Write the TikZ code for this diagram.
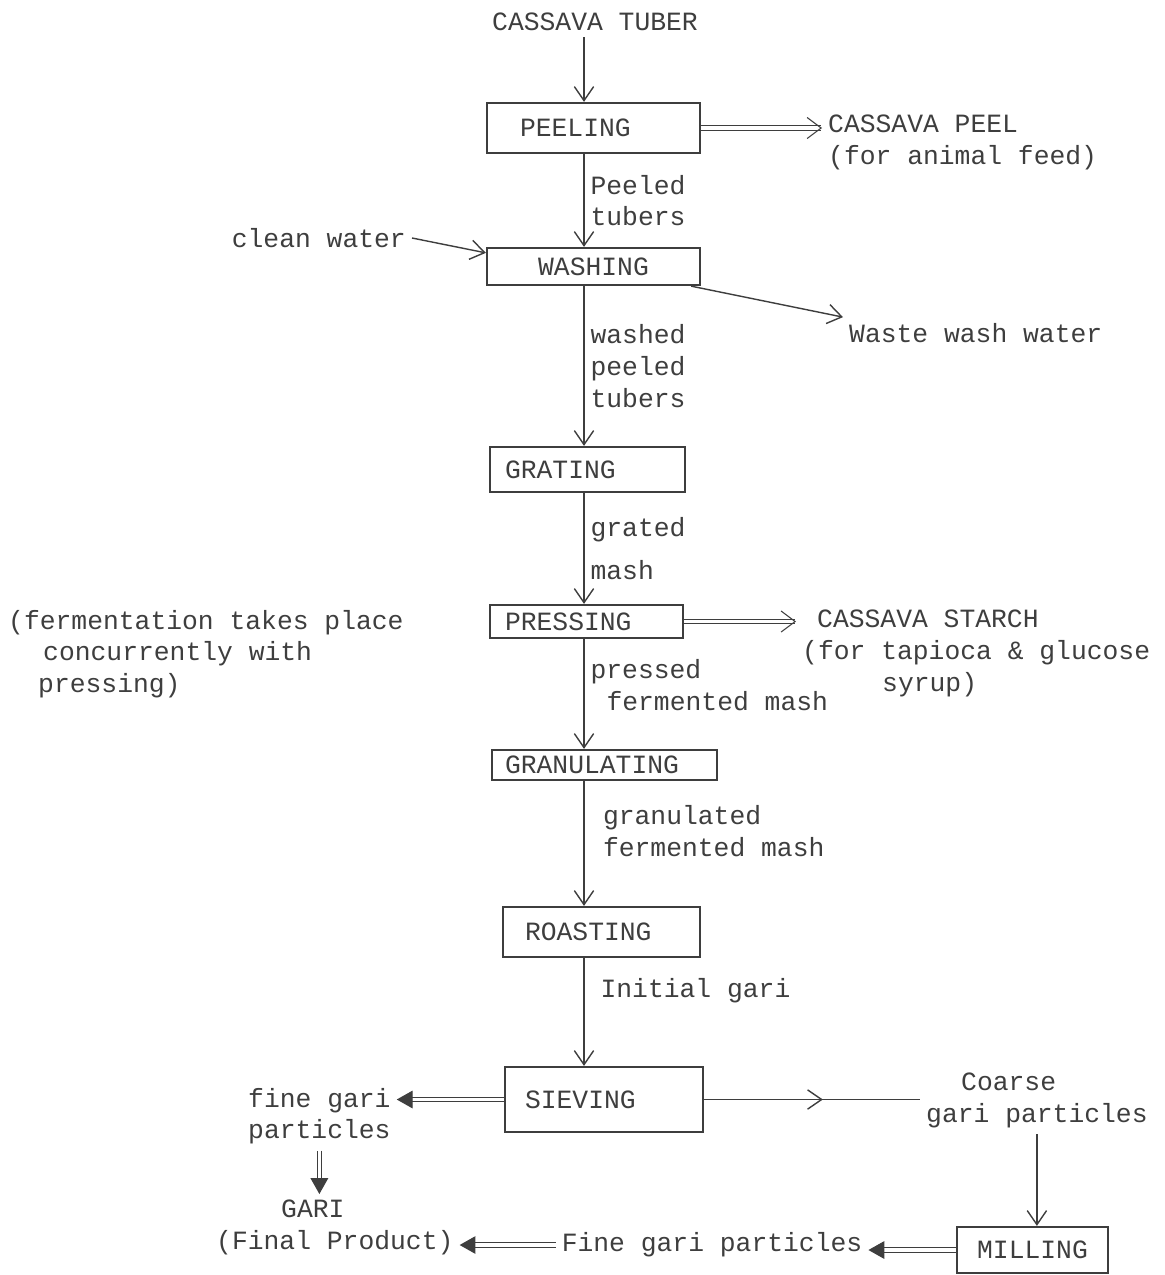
\documentclass[tikz,border=0pt]{standalone}
\usepackage{fontspec}
\setmonofont{Liberation Mono}
\usepackage{tikz}
\usetikzlibrary{arrows.meta,decorations.markings,calc}
\usepackage{xcolor}
\definecolor{ink}{RGB}{62,62,62}

\begin{document}
\begin{tikzpicture}[
    x=0.02cm, y=-0.02cm,
    every node/.style={font=\ttfamily\fontsize{15}{18}\selectfont, text=ink},
    process/.style={rectangle, draw=ink, line width=1.3pt, inner ysep=0pt, align=left},
    arrow/.style={draw=ink, line width=0.8pt, -{Straight Barb[length=8pt, width=11pt]}},
    dblarrow/.style={draw=ink, line width=0.6pt, double, double distance=2pt, -{Straight Barb[length=8pt, width=12pt]}},
    fillarrow/.style={draw=ink, line width=0.6pt, double, double distance=2pt, -{Triangle[length=9pt, width=10pt]}},
    midarrow/.style={draw=ink, line width=0.8pt, postaction={decorate},
        decoration={markings, mark=at position 0.55 with {\arrow{Straight Barb[length=8pt, width=11pt]}}}}
]
    \useasboundingbox (0,0) rectangle (1165,1275);
    \coordinate (spine) at (584,0);

    % Main line
    \node (tuber) at (595,22) {CASSAVA TUBER};
    \node[process, inner xsep=0.66cm, text width=2.94cm, minimum height=1cm] (peel) at (593.5,128) {PEELING};
    \node[process, inner xsep=0.3cm, text width=3.66cm, minimum height=0.74cm, align=center] (wash) at (593.5,266.5) {WASHING};
    \node[process, inner xsep=0.3cm, text width=3.3cm, minimum height=0.9cm] (grate) at (587.5,469.5) {GRATING};
    \node[process, inner xsep=0.3cm, text width=3.26cm, minimum height=0.66cm] (press) at (586.5,621.5) {PRESSING};
    \node[process, inner xsep=0.26cm, text width=3.98cm, minimum height=0.6cm] (granul) at (604.5,765) {GRANULATING};
    \node[process, inner xsep=0.44cm, text width=3.06cm, minimum height=1cm] (roast) at (601.5,932) {ROASTING};
    \node[process, inner xsep=0.4cm, text width=3.16cm, minimum height=1.3cm] (sieve) at (604,1099.5) {SIEVING};
    \node[process, inner xsep=0.3cm, text width=2.42cm, minimum height=0.92cm, align=center] (mill) at (1032.5,1250) {MILLING};

    % Side streams
    \node[anchor=north west, align=left] (peelout) at (822,109) {CASSAVA PEEL\\(for animal feed)};
    \node[anchor=east] (water) at (412,238) {clean water};
    \node[anchor=west] (waste) at (843,333) {Waste wash water};
    \node[anchor=north west, align=left] (starch) at (796,604) {\hspace*{0.3cm}CASSAVA STARCH\\(for tapioca \& glucose\\\hspace*{1.6cm}syrup)};
    \node[anchor=north west, align=left] (ferment) at (2,604) {(fermentation takes place\\\hspace*{0.7cm}concurrently with\\\hspace*{0.6cm}pressing)};
    \node[anchor=north west, align=left] (fine) at (242,1082) {fine gari\\particles};
    \node[anchor=north west, align=left] (coarse) at (920,1067) {\hspace*{0.7cm}Coarse\\gari particles};
    \node (fine2) at (712,1245) {Fine gari particles};
    \node[anchor=north west, align=left] (final) at (210,1194) {\hspace*{1.3cm}GARI\\(Final Product)};

    % Main flow
    \draw[arrow] (tuber.south -| spine) -- (peel.north -| spine);
    \draw[arrow] (peel.south -| spine) -- node[right, align=left] {Peeled\\tubers} (wash.north -| spine);
    \draw[arrow] (wash.south -| spine) -- node[right, align=left] {washed\\peeled\\tubers} (grate.north -| spine);
    \draw[arrow] (grate.south -| spine) -- node[right, align=left] {grated\\[0.22cm]mash} (press.north -| spine);
    \draw[arrow] (press.south -| spine) -- node[right, align=left, pos=0.42] {pressed\\\hspace*{0.32cm}fermented mash} (granul.north -| spine);
    \draw[arrow] (granul.south -| spine) -- node[right, align=left, pos=0.4, xshift=0.25cm] {granulated\\fermented mash} (roast.north -| spine);
    \draw[arrow] (roast.south -| spine) -- node[right, pos=0.3, xshift=0.2cm] {Initial gari} (sieve.north -| spine);

    % Side flows
    \draw[dblarrow] (peel.east) -- (peel.east -| peelout.west);
    \draw[arrow] (water.east) -- ([yshift=-0.12cm]wash.north west);
    \draw[arrow] ([xshift=-0.2cm]wash.south east) -- (waste.north west);
    \draw[dblarrow] (press.east) -- (press.east -| starch.west);
    \draw[fillarrow] (sieve.west) -- (sieve.west -| fine.east);
    \draw[midarrow] (sieve.east) -- (sieve.east -| coarse.west);
    \draw[arrow] (coarse.south) -- (coarse.south |- mill.north);
    \draw[fillarrow] (mill.west) -- (mill.west -| fine2.east);
    \draw[fillarrow] (fine2.west) -- (fine2.west -| final.east);
    \draw[fillarrow] (fine.south) -- (fine.south |- final.north);
\end{tikzpicture}
\end{document}
